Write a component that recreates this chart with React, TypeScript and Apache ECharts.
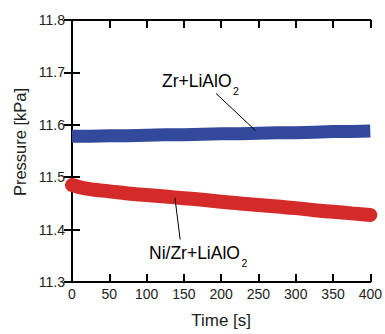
import React, { useEffect, useRef } from "react";
import * as echarts from "echarts";

const timeBlue = [0, 25, 50, 75, 100, 125, 150, 175, 200, 225, 250, 275, 300, 325, 350, 375, 400];
const pressureBlue = [11.578, 11.578, 11.579, 11.579, 11.580, 11.581, 11.581, 11.582, 11.583, 11.583, 11.584, 11.585, 11.585, 11.586, 11.587, 11.587, 11.588];

const timeRed = [0, 5, 10, 20, 30, 50, 75, 100, 125, 150, 175, 200, 225, 250, 275, 300, 325, 350, 375, 400];
const pressureRed = [11.485, 11.483, 11.481, 11.478, 11.476, 11.473, 11.469, 11.466, 11.463, 11.460, 11.457, 11.453, 11.450, 11.447, 11.444, 11.441, 11.437, 11.434, 11.431, 11.428];

const xTicks = [0, 50, 100, 150, 200, 250, 300, 350, 400];
const yTicks = [11.3, 11.4, 11.5, 11.6, 11.7, 11.8];

const labelBlue = "Zr+LiAlO";
const labelRed = "Ni/Zr+LiAlO";
const subscript = "2";
const xTitle = "Time [s]";
const yTitle = "Pressure [kPa]";

const FONT = "'Liberation Sans', Arial, sans-serif";

const rich = {
  a: { fontSize: 17.5, fontFamily: FONT, color: "#222", verticalAlign: "top", lineHeight: 18 },
  s: {
    fontSize: 10.5,
    fontFamily: FONT,
    color: "#222",
    verticalAlign: "top",
    lineHeight: 11,
    padding: [13, 0, 0, 1.5],
  },
};

export default function App() {
  const ref = useRef<HTMLDivElement>(null);
  useEffect(() => {
    if (!ref.current) return;
    const chart = echarts.init(ref.current, undefined, { renderer: "svg" });
    const axisLine = { show: true, lineStyle: { color: "#000", width: 2 } };
    const tick = { show: true, inside: true, length: 8, lineStyle: { color: "#000", width: 2 } };
    const grid = { left: 72, right: 12, top: 20, bottom: 47 };
    chart.setOption({
      animation: false,
      grid,
      xAxis: [
        {
          type: "value",
          min: xTicks[0],
          max: xTicks[xTicks.length - 1],
          interval: 50,
          axisLine,
          axisTick: tick,
          splitLine: { show: false },
          axisLabel: { color: "#222", fontSize: 14, fontFamily: FONT, margin: 5 },
          name: xTitle,
          nameLocation: "middle",
          nameGap: 30,
          nameTextStyle: { color: "#222", fontSize: 17, fontFamily: FONT },
        },
        {
          type: "value",
          position: "top",
          min: xTicks[0],
          max: xTicks[xTicks.length - 1],
          interval: 50,
          axisLine,
          axisTick: tick,
          splitLine: { show: false },
          axisLabel: { show: false },
        },
      ],
      yAxis: [
        {
          type: "value",
          min: yTicks[0],
          max: yTicks[yTicks.length - 1],
          interval: 0.1,
          axisLine,
          axisTick: tick,
          splitLine: { show: false },
          axisLabel: {
            color: "#222",
            fontSize: 14,
            fontFamily: FONT,
            margin: 7,
            formatter: (v: number) => v.toFixed(1),
          },
        },
        {
          type: "value",
          position: "right",
          min: yTicks[0],
          max: yTicks[yTicks.length - 1],
          interval: 0.1,
          axisLine,
          axisTick: tick,
          splitLine: { show: false },
          axisLabel: { show: false },
        },
      ],
      series: [
        {
          type: "line",
          data: timeBlue.map((t, i) => [t, pressureBlue[i]]),
          showSymbol: false,
          lineStyle: { color: "#334a9c", width: 13, cap: "butt" },
          markLine: {
            silent: true,
            symbol: ["none", "none"],
            label: { show: false },
            lineStyle: { color: "#000", width: 1, type: "solid" },
            data: [[{ coord: [193, 11.66] }, { coord: [246, 11.589] }]],
          },
        },
        {
          type: "line",
          data: timeRed.map((t, i) => [t, pressureRed[i]]),
          showSymbol: false,
          smooth: true,
          lineStyle: { color: "#d42a2a", width: 14, cap: "round" },
          markLine: {
            silent: true,
            symbol: ["none", "none"],
            label: { show: false },
            lineStyle: { color: "#000", width: 1, type: "solid" },
            data: [[{ coord: [138, 11.461] }, { coord: [145, 11.381] }]],
          },
        },
      ],
      graphic: [
        {
          type: "text",
          x: 20,
          y: 142,
          rotation: Math.PI / 2,
          style: {
            text: yTitle,
            fontSize: 16.5,
            fontFamily: FONT,
            fill: "#222",
            align: "center",
            verticalAlign: "middle",
          },
        },
        {
          type: "text",
          left: 162,
          top: 72,
          style: { text: `{a|${labelBlue}}{s|${subscript}}`, rich },
        },
        {
          type: "text",
          left: 149,
          top: 244,
          style: { text: `{a|${labelRed}}{s|${subscript}}`, rich },
        },
      ],
    });
    return () => chart.dispose();
  }, []);
  return (
    <div
      ref={ref}
      style={{ position: "fixed", left: 0, top: 0, width: 385, height: 334, background: "#fff" }}
    />
  );
}
